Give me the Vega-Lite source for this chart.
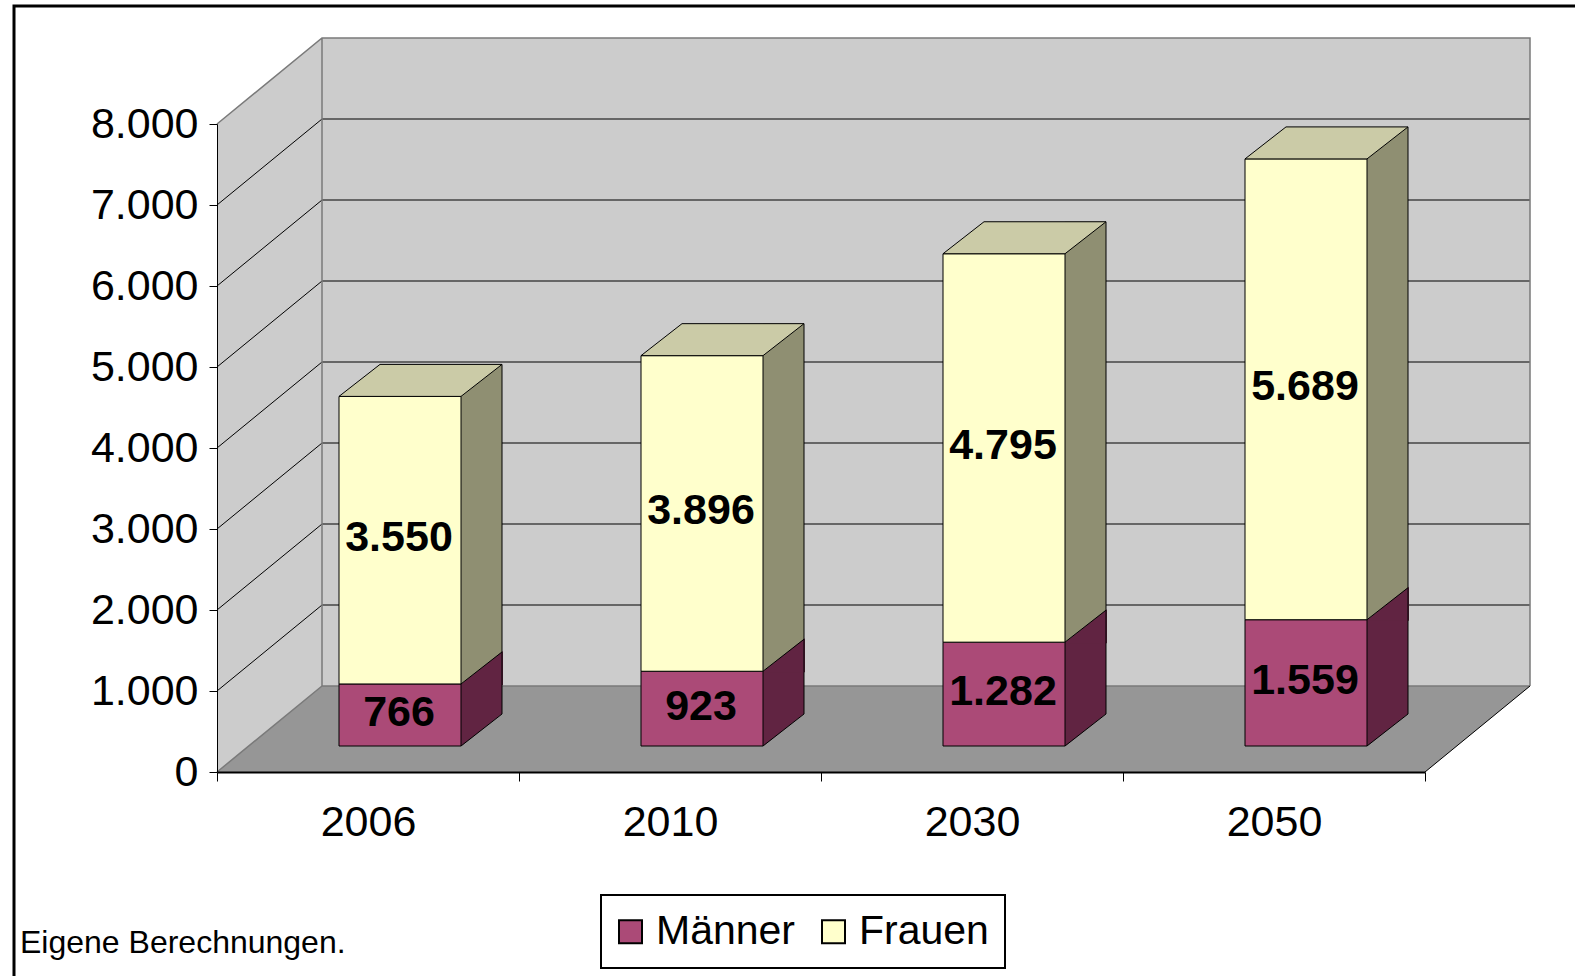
{
  "$schema": "https://vega.github.io/schema/vega-lite/v6.json",
  "width": 1208,
  "height": 648,
  "autosize": {"type": "none"},
  "padding": {"left": 217, "top": 124, "right": 150, "bottom": 204},
  "background": "white",
  "config": {
    "view": {"stroke": null},
    "font": "Liberation Sans",
    "legend": {"strokeWidth": 2}
  },
  "datasets": {
    "bars": [
      {"Jahr": "2006", "Geschlecht": "Männer", "Wert": 766},
      {"Jahr": "2006", "Geschlecht": "Frauen", "Wert": 3550},
      {"Jahr": "2010", "Geschlecht": "Männer", "Wert": 923},
      {"Jahr": "2010", "Geschlecht": "Frauen", "Wert": 3896},
      {"Jahr": "2030", "Geschlecht": "Männer", "Wert": 1282},
      {"Jahr": "2030", "Geschlecht": "Frauen", "Wert": 4795},
      {"Jahr": "2050", "Geschlecht": "Männer", "Wert": 1559},
      {"Jahr": "2050", "Geschlecht": "Frauen", "Wert": 5689}
    ],
    "grid": [{"v": 1000}, {"v": 2000}, {"v": 3000}, {"v": 4000}, {"v": 5000}, {"v": 6000}, {"v": 7000}],
    "one": [{"id": 1}]
  },
  "layer": [
    {
      "data": {"name": "bars"},
      "transform": [
        {"stack": "Wert", "groupby": ["Jahr"], "sort": [{"field": "Geschlecht", "order": "descending"}], "as": ["y0", "y1"]}
      ],
      "mark": {"type": "bar", "width": 122, "xOffset": 32, "yOffset": -26, "y2Offset": -26, "opacity": 0},
      "encoding": {
        "x": {"field": "Jahr", "type": "nominal", "title": null, "scale": {"type": "band", "domain": ["2006", "2010", "2030", "2050"], "paddingInner": 0, "paddingOuter": 0},
          "axis": {"labelAngle": 0, "tickBand": "extent", "tickSize": 9, "labelPadding": 20, "domainColor": "#000000", "domainWidth": 2, "tickColor": "#000000", "tickWidth": 1, "labelFontSize": 43, "labelFont": "Liberation Sans", "labelColor": "#000000", "grid": false, "zindex": 1}},
        "y": {"field": "y1", "type": "quantitative", "title": null, "scale": {"domain": [0, 8000], "nice": false},
          "axis": {"values": [0, 1000, 2000, 3000, 4000, 5000, 6000, 7000, 8000], "labelExpr": "replace(format(datum.value, ','), ',', '.')", "tickSize": 8, "labelPadding": 11, "domainColor": "#000000", "tickColor": "#000000", "labelFontSize": 43, "labelFont": "Liberation Sans", "labelColor": "#000000", "grid": false, "zindex": 1}},
        "y2": {"field": "y0"}
      }
    },
    {
      "data": {"name": "one"},
      "mark": {"type": "point", "shape": "M-151,0L-151,-648L-46,-734L1162,-734L1162,-86L1057,0Z", "size": 4, "filled": true, "fill": "#CCCCCC", "strokeWidth": 0, "opacity": 1},
      "encoding": {
        "x": {"datum": "2006", "type": "nominal", "title": null, "scale": {"type": "band", "domain": ["2006", "2010", "2030", "2050"], "paddingInner": 0, "paddingOuter": 0}},
        "y": {"datum": 0, "type": "quantitative", "title": null, "scale": {"domain": [0, 8000], "nice": false}}
      }
    },
    {
      "data": {"name": "one"},
      "mark": {"type": "point", "shape": "M-151,0L1057,0L1162,-86L-46,-86Z", "size": 4, "filled": true, "fill": "#969696", "strokeWidth": 0, "opacity": 1},
      "encoding": {
        "x": {"datum": "2006", "type": "nominal", "title": null, "scale": {"type": "band", "domain": ["2006", "2010", "2030", "2050"], "paddingInner": 0, "paddingOuter": 0}},
        "y": {"datum": 0, "type": "quantitative", "title": null, "scale": {"domain": [0, 8000], "nice": false}}
      }
    },
    {
      "data": {"name": "grid"},
      "mark": {"type": "point", "shape": "M-151,0L-46,-86L1162,-86", "size": 4, "filled": false, "fill": null, "stroke": "#000000", "strokeWidth": 1, "opacity": 1},
      "encoding": {
        "x": {"datum": "2006", "type": "nominal", "title": null, "scale": {"type": "band", "domain": ["2006", "2010", "2030", "2050"], "paddingInner": 0, "paddingOuter": 0}},
        "y": {"field": "v", "type": "quantitative", "title": null, "scale": {"domain": [0, 8000], "nice": false}}
      }
    },
    {
      "data": {"name": "one"},
      "mark": {"type": "point", "shape": "M-151,-648L-46,-734L1162,-734L1162,-86M-46,-734L-46,-86L1162,-86M-151,0L-46,-86", "size": 4, "filled": false, "fill": null, "stroke": "#7A7A7A", "strokeWidth": 1.5, "opacity": 1},
      "encoding": {
        "x": {"datum": "2006", "type": "nominal", "title": null, "scale": {"type": "band", "domain": ["2006", "2010", "2030", "2050"], "paddingInner": 0, "paddingOuter": 0}},
        "y": {"datum": 0, "type": "quantitative", "title": null, "scale": {"domain": [0, 8000], "nice": false}}
      }
    },
    {
      "data": {"name": "one"},
      "mark": {"type": "point", "shape": "M1057,0L1162,-86", "size": 4, "filled": false, "fill": null, "stroke": "#000000", "strokeWidth": 1, "opacity": 1},
      "encoding": {
        "x": {"datum": "2006", "type": "nominal", "title": null, "scale": {"type": "band", "domain": ["2006", "2010", "2030", "2050"], "paddingInner": 0, "paddingOuter": 0}},
        "y": {"datum": 0, "type": "quantitative", "title": null, "scale": {"domain": [0, 8000], "nice": false}}
      }
    },
    {
      "data": {"name": "one"},
      "mark": {"type": "point", "shape": "M-354,230L-354,-766L1230,-766", "size": 4, "filled": false, "fill": null, "stroke": "#000000", "strokeWidth": 3, "opacity": 1},
      "encoding": {
        "x": {"datum": "2006", "type": "nominal", "title": null, "scale": {"type": "band", "domain": ["2006", "2010", "2030", "2050"], "paddingInner": 0, "paddingOuter": 0}},
        "y": {"datum": 0, "type": "quantitative", "title": null, "scale": {"domain": [0, 8000], "nice": false}}
      }
    },
    {
      "data": {"name": "bars"},
      "transform": [
        {"stack": "Wert", "groupby": ["Jahr"], "sort": [{"field": "Geschlecht", "order": "descending"}], "as": ["y0", "y1"]}
      ],
      "mark": {"type": "bar", "width": 41, "xOffset": 113.5, "yOffset": -58, "y2Offset": -26, "strokeWidth": 0},
      "encoding": {
        "x": {"field": "Jahr", "type": "nominal", "title": null, "scale": {"type": "band", "domain": ["2006", "2010", "2030", "2050"], "paddingInner": 0, "paddingOuter": 0}},
        "y": {"field": "y1", "type": "quantitative", "title": null, "scale": {"domain": [0, 8000], "nice": false}},
        "y2": {"field": "y0"},
        "fill": {"condition": {"test": "datum.Geschlecht === 'Männer'", "value": "#612442"}, "value": "#8F8F72"}
      }
    },
    {
      "data": {"name": "bars"},
      "transform": [
        {"stack": "Wert", "groupby": ["Jahr"], "sort": [{"field": "Geschlecht", "order": "descending"}], "as": ["y0", "y1"]}
      ],
      "mark": {"type": "point", "shape": "M92,-25L135,-25L135,-59Z", "size": 4, "filled": true, "strokeWidth": 0, "opacity": 1},
      "encoding": {
        "x": {"field": "Jahr", "type": "nominal", "title": null, "scale": {"type": "band", "domain": ["2006", "2010", "2030", "2050"], "paddingInner": 0, "paddingOuter": 0}},
        "y": {"field": "y0", "type": "quantitative", "title": null, "scale": {"domain": [0, 8000], "nice": false}},
        "fill": {"condition": {"test": "datum.Geschlecht === 'Männer'", "value": "#969696"}, "value": "#612442"}
      }
    },
    {
      "data": {"name": "bars"},
      "transform": [
        {"stack": "Wert", "groupby": ["Jahr"], "sort": [{"field": "Geschlecht", "order": "descending"}], "as": ["y0", "y1"]}
      ],
      "mark": {"type": "bar", "width": 122, "xOffset": 32, "yOffset": -26, "y2Offset": -26, "stroke": "#000000", "strokeWidth": 1},
      "encoding": {
        "x": {"field": "Jahr", "type": "nominal", "title": null, "scale": {"type": "band", "domain": ["2006", "2010", "2030", "2050"], "paddingInner": 0, "paddingOuter": 0}},
        "y": {"field": "y1", "type": "quantitative", "title": null, "scale": {"domain": [0, 8000], "nice": false}},
        "y2": {"field": "y0"},
        "color": {"field": "Geschlecht", "type": "nominal",
          "scale": {"domain": ["Männer", "Frauen"], "range": ["#AB4A77", "#FFFFCC"]},
          "legend": {"orient": "none", "legendX": 384, "legendY": 771, "direction": "horizontal", "title": null, "symbolType": "square", "symbolSize": 529, "symbolStrokeColor": "#000000", "symbolStrokeWidth": 2, "symbolOpacity": 1, "symbolOffset": -7, "labelFontSize": 41, "labelFont": "Liberation Sans", "labelColor": "#000000", "labelOffset": 5, "columnPadding": 22, "padding": 16, "strokeColor": "#000000"}}
      }
    },
    {
      "data": {"name": "bars"},
      "transform": [
        {"stack": "Wert", "groupby": ["Jahr"], "sort": [{"field": "Geschlecht", "order": "descending"}], "as": ["y0", "y1"]}
      ],
      "mark": {"type": "rule", "xOffset": 134, "yOffset": -58, "y2Offset": -58, "stroke": "#000000", "strokeWidth": 1},
      "encoding": {
        "x": {"field": "Jahr", "type": "nominal", "title": null, "scale": {"type": "band", "domain": ["2006", "2010", "2030", "2050"], "paddingInner": 0, "paddingOuter": 0}},
        "y": {"field": "y1", "type": "quantitative", "title": null, "scale": {"domain": [0, 8000], "nice": false}},
        "y2": {"field": "y0"}
      }
    },
    {
      "data": {"name": "bars"},
      "transform": [
        {"stack": "Wert", "groupby": ["Jahr"], "sort": [{"field": "Geschlecht", "order": "descending"}], "as": ["y0", "y1"]}
      ],
      "mark": {"type": "point", "shape": "M93,-26L134,-58", "size": 4, "filled": false, "fill": null, "stroke": "#000000", "strokeWidth": 1, "opacity": 1},
      "encoding": {
        "x": {"field": "Jahr", "type": "nominal", "title": null, "scale": {"type": "band", "domain": ["2006", "2010", "2030", "2050"], "paddingInner": 0, "paddingOuter": 0}},
        "y": {"field": "y0", "type": "quantitative", "title": null, "scale": {"domain": [0, 8000], "nice": false}}
      }
    },
    {
      "data": {"name": "bars"},
      "transform": [
        {"stack": "Wert", "groupby": ["Jahr"], "sort": [{"field": "Geschlecht", "order": "descending"}], "as": ["y0", "y1"]},
        {"filter": "datum.Geschlecht === 'Frauen'"}
      ],
      "mark": {"type": "point", "shape": "M-29,-26L93,-26L134,-58L12,-58Z", "size": 4, "filled": true, "fill": "#CBCBA7", "stroke": "#000000", "strokeWidth": 1, "opacity": 1},
      "encoding": {
        "x": {"field": "Jahr", "type": "nominal", "title": null, "scale": {"type": "band", "domain": ["2006", "2010", "2030", "2050"], "paddingInner": 0, "paddingOuter": 0}},
        "y": {"field": "y1", "type": "quantitative", "title": null, "scale": {"domain": [0, 8000], "nice": false}}
      }
    },
    {
      "data": {"name": "bars"},
      "transform": [
        {"stack": "Wert", "groupby": ["Jahr"], "sort": [{"field": "Geschlecht", "order": "descending"}], "as": ["y0", "y1"]},
        {"calculate": "(datum.y0 + datum.y1) / 2", "as": "mid"},
        {"calculate": "replace(format(datum.Wert, ','), ',', '.')", "as": "label"}
      ],
      "mark": {"type": "text", "xOffset": 31, "yOffset": -28, "fontSize": 43, "fontWeight": "bold", "font": "Liberation Sans", "color": "#000000", "align": "center", "baseline": "middle"},
      "encoding": {
        "x": {"field": "Jahr", "type": "nominal", "title": null, "scale": {"type": "band", "domain": ["2006", "2010", "2030", "2050"], "paddingInner": 0, "paddingOuter": 0}},
        "y": {"field": "mid", "type": "quantitative", "title": null, "scale": {"domain": [0, 8000], "nice": false}},
        "text": {"field": "label", "type": "nominal"}
      }
    },
    {
      "data": {"name": "one"},
      "mark": {"type": "text", "text": "Eigene Berechnungen.", "xOffset": -348, "yOffset": 181, "fontSize": 32, "font": "Liberation Sans", "color": "#000000", "align": "left", "baseline": "alphabetic"},
      "encoding": {
        "x": {"datum": "2006", "type": "nominal", "title": null, "scale": {"type": "band", "domain": ["2006", "2010", "2030", "2050"], "paddingInner": 0, "paddingOuter": 0}},
        "y": {"datum": 0, "type": "quantitative", "title": null, "scale": {"domain": [0, 8000], "nice": false}}
      }
    }
  ]
}
